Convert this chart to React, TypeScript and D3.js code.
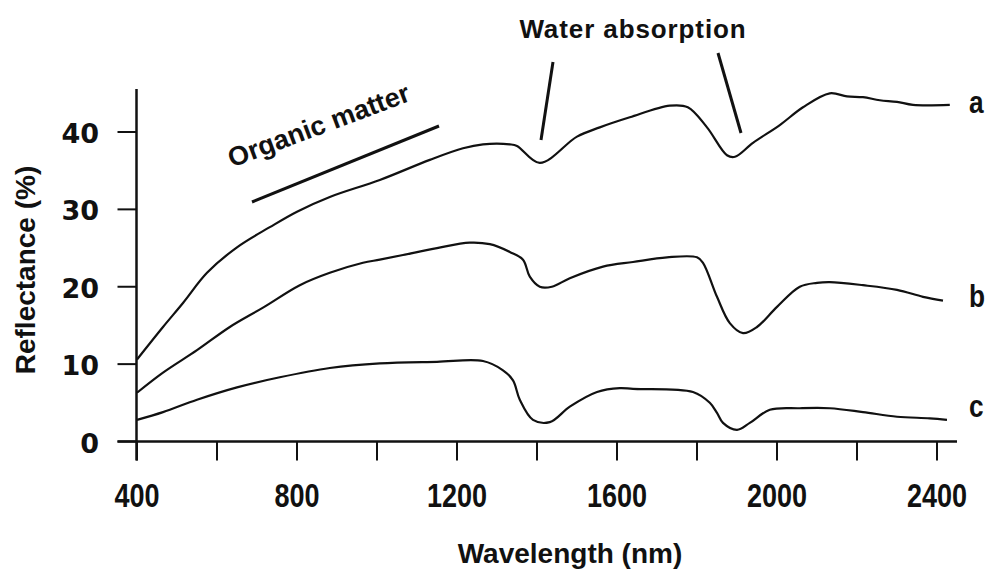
import React from 'react';
import * as d3 from 'd3';

// ---- data ----
const xTickLabels = [400, 800, 1200, 1600, 2000, 2400];
const xTickMarks = [400, 600, 800, 1000, 1200, 1400, 1600, 1800, 2000, 2200, 2400];
const yTickLabels = [0, 10, 20, 30, 40];

const nmA = [400, 465, 515, 575, 650, 732, 800, 882, 1007, 1132, 1215, 1265, 1332, 1350, 1407, 1500, 1557, 1632, 1732, 1777, 1825, 1875, 1895, 1940, 2007, 2065, 2132, 2175, 2215, 2257, 2300, 2340, 2432];
const valA = [10.6, 14.8, 17.9, 21.8, 25.1, 27.7, 29.7, 31.6, 33.8, 36.4, 37.9, 38.4, 38.4, 38.2, 36.0, 39.4, 40.6, 41.9, 43.4, 43.2, 40.6, 37.0, 36.8, 38.6, 40.9, 43.2, 45.0, 44.6, 44.5, 44.1, 43.9, 43.5, 43.5];

const nmB = [400, 465, 550, 632, 715, 807, 882, 965, 1007, 1065, 1150, 1232, 1282, 1332, 1365, 1382, 1407, 1437, 1482, 1565, 1640, 1725, 1800, 1815, 1850, 1882, 1915, 1950, 2000, 2057, 2100, 2132, 2215, 2300, 2365, 2415];
const valB = [6.3, 8.9, 11.8, 14.8, 17.3, 20.2, 21.8, 23.1, 23.5, 24.1, 25.0, 25.7, 25.5, 24.5, 23.5, 21.3, 20.0, 20.0, 21.1, 22.6, 23.2, 23.8, 23.8, 23.1, 18.7, 15.3, 14.0, 14.8, 17.4, 20.0, 20.5, 20.6, 20.2, 19.6, 18.7, 18.2];

const nmC = [400, 465, 550, 650, 757, 882, 1007, 1150, 1265, 1315, 1340, 1357, 1390, 1432, 1482, 1550, 1607, 1640, 1790, 1832, 1850, 1865, 1900, 1932, 1982, 2057, 2132, 2215, 2300, 2382, 2425];
const valC = [2.8, 3.8, 5.4, 7.0, 8.3, 9.5, 10.1, 10.3, 10.4, 9.2, 7.9, 5.4, 2.8, 2.5, 4.5, 6.4, 6.9, 6.8, 6.4, 5.0, 3.7, 2.4, 1.5, 2.4, 4.1, 4.3, 4.3, 3.8, 3.2, 3.0, 2.8];

const seriesNames = ['a', 'b', 'c'];
const xTitle = 'Wavelength (nm)';
const yTitle = 'Reflectance (%)';

export default function App() {
  const W = 986, H = 572;
  const x = d3.scaleLinear().domain([400, 2400]).range([137, 937]);
  const y = d3.scaleLinear().domain([0, 40]).range([441.5, 132]);

  const line = d3
    .line<[number, number]>()
    .x((d) => x(d[0]))
    .y((d) => y(d[1]))
    .curve(d3.curveCatmullRom.alpha(0.5));

  const series = [
    { name: seriesNames[0], nm: nmA, v: valA },
    { name: seriesNames[1], nm: nmB, v: valB },
    { name: seriesNames[2], nm: nmC, v: valC },
  ];

  const axisX = x(400) - 0.5;
  const axisY = y(0);
  const tickLen = 19;
  const labelFont = 'Liberation Sans, Arial, sans-serif';

  return (
    <svg
      width={W}
      height={H}
      viewBox={`0 0 ${W} ${H}`}
      style={{ position: 'absolute', left: 0, top: 0, background: '#fff' }}
    >
      <rect x={0} y={0} width={W} height={H} fill="#fff" />
      {/* axes */}
      <line x1={axisX} x2={axisX} y1={89} y2={axisY + tickLen} stroke="#111" strokeWidth={2.5} />
      <line x1={axisX - tickLen} x2={957} y1={axisY} y2={axisY} stroke="#111" strokeWidth={2.5} />
      {xTickMarks.map((t) => (
        <line key={'xt' + t} x1={x(t)} x2={x(t)} y1={axisY} y2={axisY + tickLen} stroke="#111" strokeWidth={2} />
      ))}
      {yTickLabels.map((t) => (
        <line key={'yt' + t} x1={axisX - tickLen} x2={axisX} y1={y(t)} y2={y(t)} stroke="#111" strokeWidth={2} />
      ))}
      {/* x tick labels (narrow bold) */}
      {xTickLabels.map((t) => (
        <text
          key={'xl' + t}
          transform={`translate(${x(t)},507) scale(0.82,1)`}
          textAnchor="middle"
          fontFamily={labelFont}
          fontWeight="bold"
          fontSize={33}
          fill="#111"
        >
          {t}
        </text>
      ))}
      {/* y tick labels */}
      {yTickLabels.map((t) => (
        <text
          key={'yl' + t}
          x={99}
          y={y(t) + 11}
          textAnchor="end"
          fontFamily="DejaVu Sans, Verdana, sans-serif"
          fontWeight="bold"
          fontSize={27}
          fill="#111"
        >
          {t}
        </text>
      ))}
      {/* titles */}
      <text x={570} y={563} textAnchor="middle" fontFamily={labelFont} fontWeight="bold" fontSize={28} fill="#111">
        {xTitle}
      </text>
      <text
        transform="translate(35,270) rotate(-90)"
        textAnchor="middle"
        fontFamily={labelFont}
        fontWeight="bold"
        fontSize={28}
        fill="#111"
      >
        {yTitle}
      </text>
      {/* curves */}
      {series.map((s) => (
        <path
          key={s.name}
          d={line(s.nm.map((n, i) => [n, s.v[i]] as [number, number])) || ''}
          fill="none"
          stroke="#111"
          strokeWidth={2.2}
          strokeLinejoin="round"
        />
      ))}
      {/* series labels */}
      {series.map((s, i) => (
        <text
          key={'sl' + s.name}
          transform={`translate(969,${[113, 307, 417][i]}) scale(0.82,1)`}
          fontFamily={labelFont}
          fontWeight="bold"
          fontSize={32}
          fill="#111"
        >
          {s.name}
        </text>
      ))}
      {/* annotations */}
      <text
        x={633}
        y={38}
        textAnchor="middle"
        fontFamily={labelFont}
        fontWeight="bold"
        fontSize={26}
        letterSpacing={0.9}
        fill="#111"
      >
        Water absorption
      </text>
      <line x1={553} y1={62} x2={541} y2={140} stroke="#111" strokeWidth={3} />
      <line x1={718} y1={53} x2={741} y2={133} stroke="#111" strokeWidth={3} />
      <text
        transform="translate(322,134) rotate(-20.5)"
        textAnchor="middle"
        fontFamily={labelFont}
        fontWeight="bold"
        fontSize={27}
        fill="#111"
      >
        Organic matter
      </text>
      <line x1={252} y1={202} x2={439} y2={126} stroke="#111" strokeWidth={3} />
    </svg>
  );
}
